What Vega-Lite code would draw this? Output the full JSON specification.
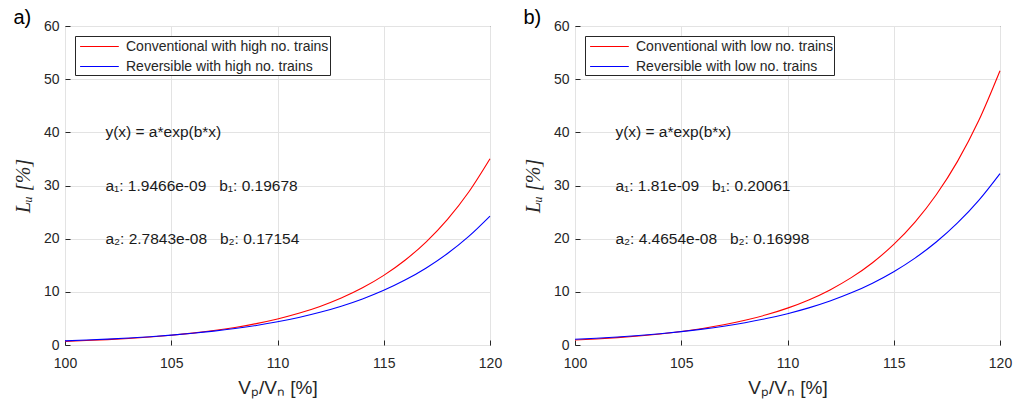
{
  "$schema": "https://vega.github.io/schema/vega-lite/v6.json",
  "background": "white",
  "padding": {"left": 12, "top": 7, "right": 3, "bottom": 5},
  "spacing": 19,
  "config": {
    "font": "Liberation Sans",
    "view": {"stroke": "#262626", "strokeWidth": 1},
    "axis": {
      "labelFont": "Liberation Sans", "labelFontSize": 14, "labelColor": "#262626", "labelFlush": false,
      "titleColor": "#262626", "titleFontWeight": "normal",
      "domain": false, "gridColor": "#e3e3e3", "gridWidth": 1,
      "tickColor": "#262626", "tickSize": -5, "labelPadding": 11
    },
    "legend": {
      "orient": "top-left", "offset": 10, "title": null,
      "strokeColor": "#262626", "fillColor": "white", "padding": 1,
      "labelFont": "Liberation Sans", "labelFontSize": 14, "labelColor": "#262626", "labelLimit": 500,
      "symbolType": "M-0.6,0H3.7", "symbolSize": 324, "symbolStrokeWidth": 1,
      "rowPadding": 3, "labelOffset": 31
    },
    "title": {"font": "Liberation Sans", "fontSize": 20, "fontWeight": "normal", "color": "black", "anchor": "start", "frame": "bounds", "offset": -9}
  },
  "datasets": {
    "left": [
      {"s": "Conventional with high no. trains", "x": 100, "y": 0.6844}, {"s": "Conventional with high no. trains", "x": 101, "y": 0.8332},
      {"s": "Conventional with high no. trains", "x": 102, "y": 1.0144}, {"s": "Conventional with high no. trains", "x": 103, "y": 1.2350},
      {"s": "Conventional with high no. trains", "x": 104, "y": 1.5036}, {"s": "Conventional with high no. trains", "x": 105, "y": 1.8306},
      {"s": "Conventional with high no. trains", "x": 106, "y": 2.2287}, {"s": "Conventional with high no. trains", "x": 107, "y": 2.7134},
      {"s": "Conventional with high no. trains", "x": 108, "y": 3.3035}, {"s": "Conventional with high no. trains", "x": 109, "y": 4.0219},
      {"s": "Conventional with high no. trains", "x": 110, "y": 4.8966}, {"s": "Conventional with high no. trains", "x": 111, "y": 5.9615},
      {"s": "Conventional with high no. trains", "x": 112, "y": 7.2580}, {"s": "Conventional with high no. trains", "x": 113, "y": 8.8365},
      {"s": "Conventional with high no. trains", "x": 114, "y": 10.758}, {"s": "Conventional with high no. trains", "x": 115, "y": 13.098},
      {"s": "Conventional with high no. trains", "x": 116, "y": 15.946}, {"s": "Conventional with high no. trains", "x": 117, "y": 19.414},
      {"s": "Conventional with high no. trains", "x": 118, "y": 23.636}, {"s": "Conventional with high no. trains", "x": 119, "y": 28.777},
      {"s": "Conventional with high no. trains", "x": 120, "y": 35.035},
      {"s": "Reversible with high no. trains", "x": 100, "y": 0.7845}, {"s": "Reversible with high no. trains", "x": 101, "y": 0.9313},
      {"s": "Reversible with high no. trains", "x": 102, "y": 1.1056}, {"s": "Reversible with high no. trains", "x": 103, "y": 1.3125},
      {"s": "Reversible with high no. trains", "x": 104, "y": 1.5581}, {"s": "Reversible with high no. trains", "x": 105, "y": 1.8497},
      {"s": "Reversible with high no. trains", "x": 106, "y": 2.1958}, {"s": "Reversible with high no. trains", "x": 107, "y": 2.6067},
      {"s": "Reversible with high no. trains", "x": 108, "y": 3.0945}, {"s": "Reversible with high no. trains", "x": 109, "y": 3.6736},
      {"s": "Reversible with high no. trains", "x": 110, "y": 4.3611}, {"s": "Reversible with high no. trains", "x": 111, "y": 5.1772},
      {"s": "Reversible with high no. trains", "x": 112, "y": 6.1461}, {"s": "Reversible with high no. trains", "x": 113, "y": 7.2963},
      {"s": "Reversible with high no. trains", "x": 114, "y": 8.6617}, {"s": "Reversible with high no. trains", "x": 115, "y": 10.283},
      {"s": "Reversible with high no. trains", "x": 116, "y": 12.207}, {"s": "Reversible with high no. trains", "x": 117, "y": 14.491},
      {"s": "Reversible with high no. trains", "x": 118, "y": 17.203}, {"s": "Reversible with high no. trains", "x": 119, "y": 20.422},
      {"s": "Reversible with high no. trains", "x": 120, "y": 24.244}
    ],
    "right": [
      {"s": "Conventional with low no. trains", "x": 100, "y": 0.9334}, {"s": "Conventional with low no. trains", "x": 101, "y": 1.1407},
      {"s": "Conventional with low no. trains", "x": 102, "y": 1.3941}, {"s": "Conventional with low no. trains", "x": 103, "y": 1.7039},
      {"s": "Conventional with low no. trains", "x": 104, "y": 2.0824}, {"s": "Conventional with low no. trains", "x": 105, "y": 2.5450},
      {"s": "Conventional with low no. trains", "x": 106, "y": 3.1104}, {"s": "Conventional with low no. trains", "x": 107, "y": 3.8014},
      {"s": "Conventional with low no. trains", "x": 108, "y": 4.6459}, {"s": "Conventional with low no. trains", "x": 109, "y": 5.6780},
      {"s": "Conventional with low no. trains", "x": 110, "y": 6.9393}, {"s": "Conventional with low no. trains", "x": 111, "y": 8.4809},
      {"s": "Conventional with low no. trains", "x": 112, "y": 10.365}, {"s": "Conventional with low no. trains", "x": 113, "y": 12.667},
      {"s": "Conventional with low no. trains", "x": 114, "y": 15.481}, {"s": "Conventional with low no. trains", "x": 115, "y": 18.920},
      {"s": "Conventional with low no. trains", "x": 116, "y": 23.124}, {"s": "Conventional with low no. trains", "x": 117, "y": 28.261},
      {"s": "Conventional with low no. trains", "x": 118, "y": 34.539}, {"s": "Conventional with low no. trains", "x": 119, "y": 42.212},
      {"s": "Conventional with low no. trains", "x": 120, "y": 51.589},
      {"s": "Reversible with low no. trains", "x": 100, "y": 1.0765}, {"s": "Reversible with low no. trains", "x": 101, "y": 1.2760},
      {"s": "Reversible with low no. trains", "x": 102, "y": 1.5124}, {"s": "Reversible with low no. trains", "x": 103, "y": 1.7926},
      {"s": "Reversible with low no. trains", "x": 104, "y": 2.1248}, {"s": "Reversible with low no. trains", "x": 105, "y": 2.5185},
      {"s": "Reversible with low no. trains", "x": 106, "y": 2.9852}, {"s": "Reversible with low no. trains", "x": 107, "y": 3.5383},
      {"s": "Reversible with low no. trains", "x": 108, "y": 4.1939}, {"s": "Reversible with low no. trains", "x": 109, "y": 4.9710},
      {"s": "Reversible with low no. trains", "x": 110, "y": 5.8921}, {"s": "Reversible with low no. trains", "x": 111, "y": 6.9838},
      {"s": "Reversible with low no. trains", "x": 112, "y": 8.2778}, {"s": "Reversible with low no. trains", "x": 113, "y": 9.8116},
      {"s": "Reversible with low no. trains", "x": 114, "y": 11.630}, {"s": "Reversible with low no. trains", "x": 115, "y": 13.785},
      {"s": "Reversible with low no. trains", "x": 116, "y": 16.339}, {"s": "Reversible with low no. trains", "x": 117, "y": 19.366},
      {"s": "Reversible with low no. trains", "x": 118, "y": 22.954}, {"s": "Reversible with low no. trains", "x": 119, "y": 27.208},
      {"s": "Reversible with low no. trains", "x": 120, "y": 32.249}
    ],
    "annLeft": [
      {"x": 101.9, "y": 40, "t": "y(x) = a*exp(b*x)"},
      {"x": 101.9, "y": 30, "t": "a₁: 1.9466e-09\u00a0\u00a0\u00a0b₁: 0.19678"},
      {"x": 101.9, "y": 20, "t": "a₂: 2.7843e-08\u00a0\u00a0\u00a0b₂: 0.17154"}
    ],
    "annRight": [
      {"x": 101.9, "y": 40, "t": "y(x) = a*exp(b*x)"},
      {"x": 101.9, "y": 30, "t": "a₁: 1.81e-09\u00a0\u00a0\u00a0b₁: 0.20061"},
      {"x": 101.9, "y": 20, "t": "a₂: 4.4654e-08\u00a0\u00a0\u00a0b₂: 0.16998"}
    ]
  },
  "resolve": {"scale": {"color": "independent"}, "legend": {"color": "independent"}},
  "hconcat": [
    {
      "title": {"text": "a)"},
      "width": 425, "height": 319,
      "layer": [
        {
          "data": {"name": "left"},
          "mark": {"type": "line", "strokeWidth": 1.1, "interpolate": "monotone"},
          "encoding": {
            "x": {"field": "x", "type": "quantitative", "scale": {"domain": [100, 120], "nice": false},
                  "axis": {"values": [100, 105, 110, 115, 120], "title": "Vₚ/Vₙ [%]", "titleFontSize": 19, "titleFont": "Liberation Sans", "titlePadding": 8, "labelPadding": 16}},
            "y": {"field": "y", "type": "quantitative", "scale": {"domain": [0, 60], "nice": false},
                  "axis": {"values": [0, 10, 20, 30, 40, 50, 60], "title": "Lᵤ [%]", "titleFont": "Liberation Serif", "titleFontStyle": "italic", "titleFontSize": 20, "titlePadding": 10}},
            "color": {"field": "s", "type": "nominal",
                      "scale": {"domain": ["Conventional with high no. trains", "Reversible with high no. trains"], "range": ["#ff0000", "#0000ff"]}}
          }
        },
        {
          "data": {"name": "annLeft"},
          "mark": {"type": "text", "align": "left", "baseline": "middle", "fontSize": 15.5, "font": "Liberation Sans", "color": "#1a1a1a"},
          "encoding": {
            "x": {"field": "x", "type": "quantitative"},
            "y": {"field": "y", "type": "quantitative"},
            "text": {"field": "t"}
          }
        }
      ]
    },
    {
      "title": {"text": "b)"},
      "width": 425, "height": 319,
      "layer": [
        {
          "data": {"name": "right"},
          "mark": {"type": "line", "strokeWidth": 1.1, "interpolate": "monotone"},
          "encoding": {
            "x": {"field": "x", "type": "quantitative", "scale": {"domain": [100, 120], "nice": false},
                  "axis": {"values": [100, 105, 110, 115, 120], "title": "Vₚ/Vₙ [%]", "titleFontSize": 19, "titleFont": "Liberation Sans", "titlePadding": 8, "labelPadding": 16}},
            "y": {"field": "y", "type": "quantitative", "scale": {"domain": [0, 60], "nice": false},
                  "axis": {"values": [0, 10, 20, 30, 40, 50, 60], "title": "Lᵤ [%]", "titleFont": "Liberation Serif", "titleFontStyle": "italic", "titleFontSize": 20, "titlePadding": 10}},
            "color": {"field": "s", "type": "nominal",
                      "scale": {"domain": ["Conventional with low no. trains", "Reversible with low no. trains"], "range": ["#ff0000", "#0000ff"]}}
          }
        },
        {
          "data": {"name": "annRight"},
          "mark": {"type": "text", "align": "left", "baseline": "middle", "fontSize": 15.5, "font": "Liberation Sans", "color": "#1a1a1a"},
          "encoding": {
            "x": {"field": "x", "type": "quantitative"},
            "y": {"field": "y", "type": "quantitative"},
            "text": {"field": "t"}
          }
        }
      ]
    }
  ]
}
